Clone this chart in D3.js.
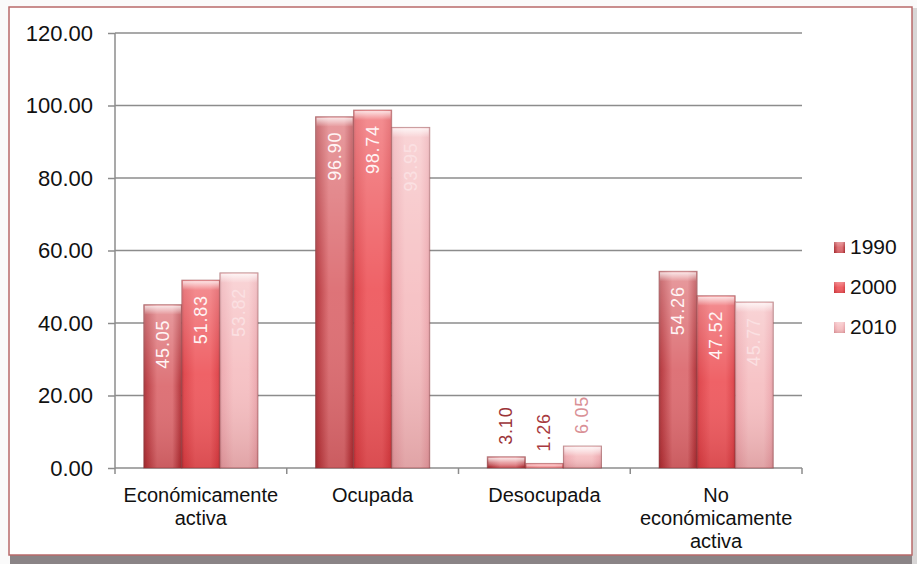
<!DOCTYPE html>
<html><head><meta charset="utf-8">
<script src="https://cdn.jsdelivr.net/npm/d3@7"></script>
<style>body{margin:0;background:#fff;}svg{display:block;font-family:"Liberation Sans",Arial,sans-serif;}</style>
</head><body><svg id="c" width="917" height="564"></svg>
<script>
const categories = [["Económicamente","activa"],["Ocupada"],["Desocupada"],["No","económicamente","activa"]];
const seriesNames = ["1990","2000","2010"];
const v1990 = [45.05, 96.90, 3.10, 54.26];
const v2000 = [51.83, 98.74, 1.26, 47.52];
const v2010 = [53.82, 93.95, 6.05, 45.77];
const yTicks = [0,20,40,60,80,100,120];

const values = [v1990, v2000, v2010];
const svg = d3.select("#c");
const defs = svg.append("defs");

// frame
svg.append("rect").attr("x",0).attr("y",0).attr("width",917).attr("height",564).attr("fill","#fafafa");
svg.append("rect").attr("x",10).attr("y",555).attr("width",907).attr("height",9).attr("fill","#8a8486");
svg.append("rect").attr("x",912).attr("y",8).attr("width",5).attr("height",556).attr("fill","#d8d6d6");
svg.append("rect").attr("x",9).attr("y",7).attr("width",903).attr("height",548).attr("fill","#fff").attr("stroke","#b86a6a").attr("stroke-width",1.5);

const m = {l:115, r:802, t:33, b:468};
const x0 = d3.scaleBand().domain(d3.range(categories.length)).range([m.l, m.r]).paddingInner(0.335).paddingOuter(0.1675);
const x1 = d3.scaleBand().domain(seriesNames).range([0, x0.bandwidth()]);
const y = d3.scaleLinear().domain([0,120]).range([m.b, m.t]);

// gridlines
svg.append("g").selectAll("line").data(yTicks.filter(d=>d>0)).join("line")
  .attr("x1",m.l).attr("x2",m.r).attr("y1",d=>y(d)).attr("y2",d=>y(d))
  .attr("stroke","#8c8c8c").attr("stroke-width",1.5);

// y axis
const ya = svg.append("g").attr("transform",`translate(${m.l},0)`)
  .call(d3.axisLeft(y).tickValues(yTicks).tickFormat(d3.format(".2f")).tickSize(7).tickPadding(15));
ya.select(".domain").attr("stroke","#8c8c8c").attr("stroke-width",1.5).attr("d",`M-0,${m.t}V${m.b}`);
ya.selectAll(".tick line").attr("stroke","#8c8c8c").attr("stroke-width",1.5);
ya.selectAll(".tick text").attr("font-size",22).attr("fill","#111").attr("font-family","Liberation Sans, Arial, sans-serif");

// x axis
const xa = svg.append("g").attr("transform",`translate(0,${m.b})`);
xa.append("line").attr("x1",m.l).attr("x2",m.r).attr("stroke","#8c8c8c").attr("stroke-width",1.5);
xa.selectAll("line.tk").data(d3.range(categories.length+1)).join("line").attr("class","tk")
  .attr("x1",i=>m.l+i*(m.r-m.l)/categories.length).attr("x2",i=>m.l+i*(m.r-m.l)/categories.length)
  .attr("y1",0).attr("y2",6).attr("stroke","#8c8c8c").attr("stroke-width",1.5);
categories.forEach((lines,i)=>{
  const cx = x0(i)+x0.bandwidth()/2;
  const t = xa.append("text").attr("text-anchor","middle").attr("font-size",20).attr("fill","#111");
  lines.forEach((ln,j)=>t.append("tspan").attr("x",cx).attr("y",34+j*23).text(ln));
});

// gradients
const pal = [
  {edge:"#9e3237", mid:"#dc6c71", bot:"#b8383e"},
  {edge:"#c2353b", mid:"#ee5a5f", bot:"#df4248"},
  {edge:"#d8979d", mid:"#f6c0c3", bot:"#eeaab0"}
];
pal.forEach((p,i)=>{
  const g = defs.append("linearGradient").attr("id","h"+i).attr("x1",0).attr("x2",1).attr("y1",0).attr("y2",0);
  [[0,p.edge],[0.07,p.bot],[0.35,p.mid],[0.75,p.mid],[0.94,p.bot],[1,p.edge]].forEach(s=>g.append("stop").attr("offset",s[0]).attr("stop-color",s[1]));
});
const vg = defs.append("linearGradient").attr("id","v").attr("x1",0).attr("x2",0).attr("y1",0).attr("y2",1);
[[0,"#fff",0.32],[0.5,"#fff",0.05],[1,"#600",0.15]].forEach(s=>vg.append("stop").attr("offset",s[0]).attr("stop-color",s[1]).attr("stop-opacity",s[2]));
const tg = defs.append("linearGradient").attr("id","t").attr("x1",0).attr("x2",0).attr("y1",0).attr("y2",1);
[[0,"#fff",0.75],[1,"#fff",0.0]].forEach(s=>tg.append("stop").attr("offset",s[0]).attr("stop-color",s[1]).attr("stop-opacity",s[2]));

const labelFill = ["#fff4f4","#fff4f4","#fbe0e2"];
const outFill = ["#9b3338","#a83a40","#d99096"];
const bars = svg.append("g");
categories.forEach((c,i)=>{
  seriesNames.forEach((s,k)=>{
    const v = values[k][i];
    const bx = x0(i)+x1(s), bw = x1.bandwidth(), by = y(v), bh = y(0)-y(v);
    bars.append("rect").attr("x",bx).attr("y",by).attr("width",bw).attr("height",bh).attr("fill",`url(#h${k})`).attr("stroke","#8a3a3e").attr("stroke-opacity",0.55).attr("stroke-width",1);
    bars.append("rect").attr("x",bx).attr("y",by).attr("width",bw).attr("height",bh).attr("fill","url(#v)");
    bars.append("rect").attr("x",bx+1).attr("y",by+1).attr("width",bw-2).attr("height",Math.min(9,bh)).attr("fill","url(#t)");
    const inside = bh > 40;
    const lx = bx+bw/2;
    const ly = inside ? by+15 : by-12;
    bars.append("text").attr("transform",`translate(${lx+6},${ly}) rotate(-90)`)
      .attr("font-size",18).attr("letter-spacing",0.8)
      .attr("fill", inside ? labelFill[k] : outFill[k])
      .attr("text-anchor", inside ? "end" : "start")
      .text(d3.format(".2f")(v));
  });
});

// legend
const lg = svg.append("g");
seriesNames.forEach((s,k)=>{
  const ly = 247 + k*40;
  lg.append("rect").attr("x",834).attr("y",ly-5).attr("width",11).attr("height",11).attr("fill",`url(#h${k})`);
  lg.append("rect").attr("x",834).attr("y",ly-5).attr("width",11).attr("height",11).attr("fill","url(#v)");
  lg.append("text").attr("x",850).attr("y",ly+7).attr("font-size",21).attr("fill","#111").text(s);
});
</script></body></html>
